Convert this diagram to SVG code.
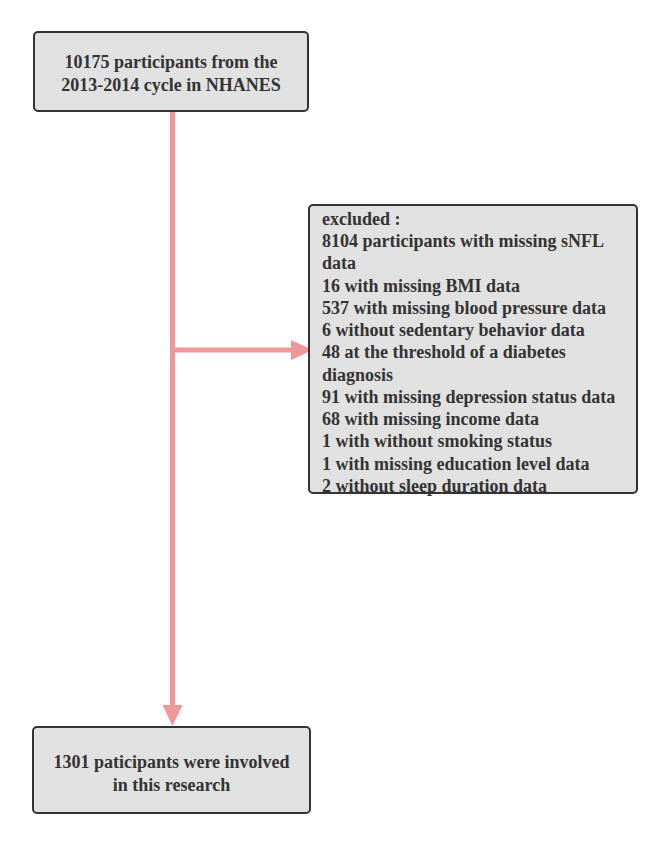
<svg xmlns="http://www.w3.org/2000/svg" width="669" height="845" viewBox="0 0 669 845">
<style>
.box{fill:#e1e1e1;stroke:#333333;stroke-width:2}
.t{font-family:"Liberation Serif","Times New Roman",serif;font-weight:bold;font-size:18px;fill:#333333}
.c{text-anchor:middle}
.ln{stroke:#ee9898;stroke-width:5;fill:none}
.ah{fill:#ee9898}
</style>
<rect width="669" height="845" fill="#ffffff"/>
<g id="connectors">
<line class="ln" x1="172.5" y1="111" x2="172.5" y2="706"/>
<polygon class="ah" points="162.5,705 182.5,705 172.5,726"/>
<line class="ln" x1="172.5" y1="350" x2="292" y2="350"/>
<polygon class="ah" points="291,340 291,360 313,350"/>
</g>
<g id="start">
<rect class="box" x="34" y="32" width="274" height="79" rx="4"/>
<text class="t c" x="171" y="68">10175 participants from the</text>
<text class="t c" x="171" y="91">2013-2014 cycle in NHANES</text>
</g>
<g id="excluded">
<rect class="box" x="309" y="205" width="328" height="288" rx="4"/>
<text class="t" x="322">
<tspan x="322" y="225">excluded :</tspan>
<tspan x="322" y="247">8104 participants with missing sNFL</tspan>
<tspan x="322" y="269">data</tspan>
<tspan x="322" y="292">16 with missing BMI data</tspan>
<tspan x="322" y="314">537 with missing blood pressure data</tspan>
<tspan x="322" y="336">6 without sedentary behavior data</tspan>
<tspan x="322" y="358">48 at the threshold of a diabetes</tspan>
<tspan x="322" y="381">diagnosis</tspan>
<tspan x="322" y="403">91 with missing depression status data</tspan>
<tspan x="322" y="425">68 with missing income data</tspan>
<tspan x="322" y="447">1 with without smoking status</tspan>
<tspan x="322" y="470">1 with missing education level data</tspan>
<tspan x="322" y="492">2 without sleep duration data</tspan>
</text>
</g>
<g id="final">
<rect class="box" x="33" y="727" width="277" height="86" rx="4"/>
<text class="t c" x="171.5" y="768">1301 paticipants were involved</text>
<text class="t c" x="171.5" y="791">in this research</text>
</g>
</svg>
